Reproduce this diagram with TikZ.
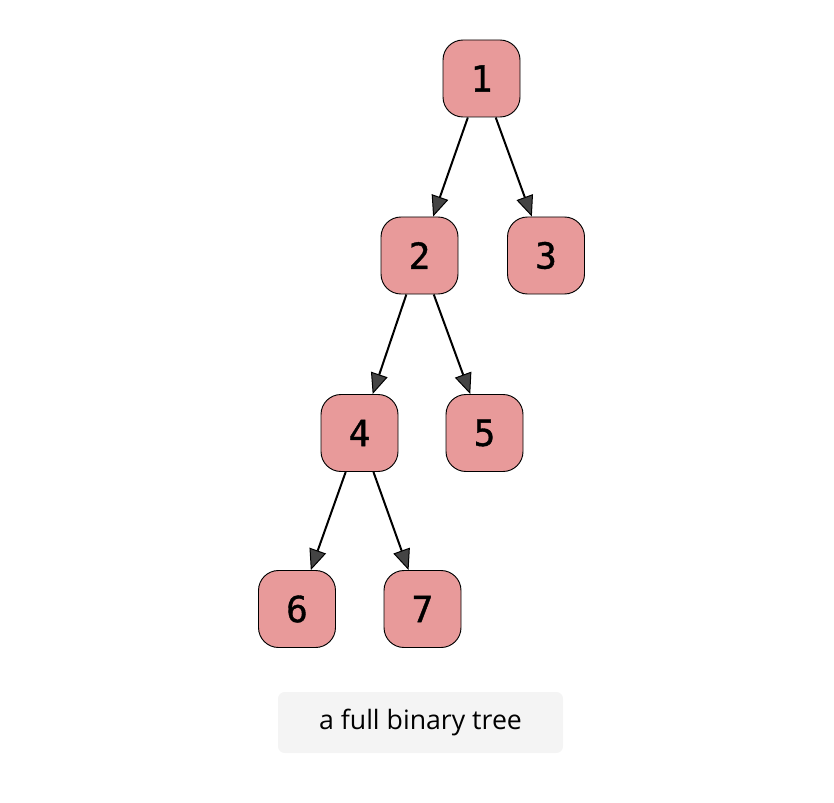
\documentclass[tikz,border=0pt]{standalone}
\usepackage{fontspec}
\setmainfont{Open Sans}
\newfontfamily\digitfont[FakeBold=1]{DejaVu Sans Mono}
\usetikzlibrary{arrows.meta}
\definecolor{nodepink}{HTML}{E89A9A}
\definecolor{tipgray}{HTML}{444444}
\definecolor{capbg}{HTML}{F4F4F4}
\begin{document}
\begin{tikzpicture}[x=0.75pt,y=-0.75pt,
  treenode/.style={draw=black, fill=nodepink, rounded corners=15pt, minimum width=57.75pt, minimum height=57.75pt, inner sep=0pt, line width=0.7pt, font=\digitfont\fontsize{27}{32}\selectfont},
  edge/.style={draw=black, line width=1.5pt, -{Triangle[length=15.5pt, width=13pt, fill=tipgray, line width=0.75pt]}},
  caption/.style={fill=capbg, rounded corners=5pt, minimum width=213.75pt, minimum height=45.75pt, inner sep=0pt, font=\fontsize{20}{24}\selectfont}]
\useasboundingbox (0,0) rectangle (834,802);
\node[treenode] (n1) at (481.5,78.5) {1};
\node[treenode] (n2) at (419.5,255.5) {2};
\node[treenode] (n3) at (546,255.5) {3};
\node[treenode] (n4) at (359.5,433) {4};
\node[treenode] (n5) at (484.5,433) {5};
\node[treenode] (n6) at (297,609) {6};
\node[treenode] (n7) at (422.5,609) {7};
\draw[edge] (n1) -- (n2);
\draw[edge] (n1) -- (n3);
\draw[edge] (n2) -- (n4);
\draw[edge] (n2) -- (n5);
\draw[edge] (n4) -- (n6);
\draw[edge] (n4) -- (n7);
\node[caption] (cap) at (420.5,722.5) {a full binary tree};
\end{tikzpicture}
\end{document}
